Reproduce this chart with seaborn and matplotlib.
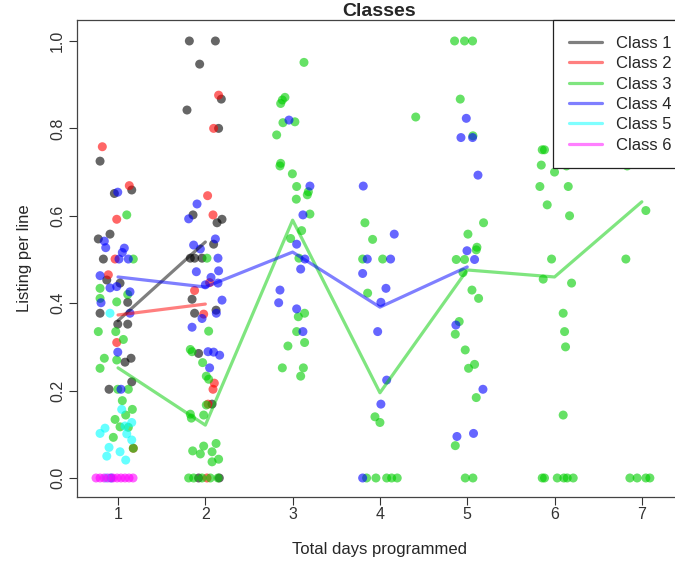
import matplotlib
matplotlib.use("Agg")
import matplotlib.pyplot as plt
from matplotlib.lines import Line2D
import numpy as np
import pandas as pd
import seaborn as sns

sns.set_style("ticks")
plt.rcParams['font.family'] = ['Liberation Sans', 'DejaVu Sans']

# jittered points: x = day (with jitter), y = listing per line
class1_x = [0.794, 1.157, 0.958, 0.908, 0.774, 0.832, 0.871, 1.023, 1.111, 0.794,
            0.997, 1.111, 1.080, 1.149, 1.157, 0.897,
            1.817, 2.115, 1.935, 2.183, 1.790, 2.152, 1.859, 2.134, 2.191, 2.095,
            1.828, 1.877, 1.962, 1.848, 1.877, 2.123, 1.923, 2.077, 1.923, 2.160]
class1_y = [0.725, 0.659, 0.651, 0.558, 0.547, 0.501, 0.453, 0.446, 0.402, 0.377,
            0.352, 0.352, 0.265, 0.274, 0.220, 0.203,
            1.0, 1.0, 0.947, 0.867, 0.842, 0.800, 0.602, 0.584, 0.592, 0.535,
            0.503, 0.503, 0.503, 0.409, 0.377, 0.384, 0.285, 0.169, 0.0, 0.0]

class2_x = [0.820, 1.129, 0.985, 0.966, 0.889, 0.985, 1.175,
            2.152, 2.095, 2.026, 2.088, 2.049, 1.877, 1.981, 2.103, 2.088, 2.031, 2.019]
class2_y = [0.758, 0.669, 0.592, 0.501, 0.465, 0.310, 0.068,
            0.876, 0.800, 0.646, 0.602, 0.447, 0.429, 0.375, 0.217, 0.203, 0.169, 0.0]

class3_x = [1.100, 1.175, 0.794, 1.111, 0.794, 0.985, 0.774, 0.974, 1.061, 0.843,
            0.985, 0.794, 0.997, 1.118, 1.049, 1.164, 1.088, 0.966, 1.023, 1.118,
            0.946, 1.175,
            2.019, 2.038, 1.828, 1.848, 1.969, 2.011, 2.038, 2.011, 1.828, 1.840,
            1.981, 2.123, 1.981, 1.855, 2.077, 1.943, 2.152, 2.077,
            1.809, 1.866, 1.962, 2.057, 2.145,
            3.130, 2.912, 2.882, 2.863, 2.889, 3.026, 2.817, 2.863, 2.855, 2.997,
            3.046, 3.180, 3.168, 3.042, 3.198, 3.103, 2.977, 3.072, 3.065, 3.137,
            3.046, 2.946, 3.137, 2.882, 3.123, 3.092,
            3.828, 3.916, 3.802, 4.031, 3.859, 3.943, 4.0, 4.410,
            3.847, 3.954, 4.077, 4.134, 4.198,
            4.855, 4.969, 5.061, 4.920, 5.065, 5.187, 5.008, 5.111, 5.103, 4.874,
            4.969, 4.951, 5.054, 5.130, 4.908, 4.863, 4.977, 5.084, 5.015, 5.103,
            4.863, 4.977, 5.065,
            5.859, 5.885, 5.848, 6.0, 6.137, 5.832, 6.157, 5.916, 6.172, 5.966,
            5.870, 6.195, 6.099, 6.115, 6.126, 6.099,
            5.859, 5.885, 6.031, 6.107, 6.145, 6.214,
            6.832, 7.046, 6.817, 6.863, 6.946, 7.046, 7.092]
class3_y = [0.602, 0.501, 0.434, 0.420, 0.411, 0.403, 0.335, 0.335, 0.317, 0.274,
            0.270, 0.251, 0.203, 0.203, 0.177, 0.157, 0.144, 0.134, 0.117, 0.116,
            0.093, 0.068,
            0.503, 0.336, 0.294, 0.289, 0.264, 0.233, 0.226, 0.167, 0.146, 0.137,
            0.144, 0.079, 0.073, 0.062, 0.060, 0.055, 0.043, 0.037,
            0.0, 0.0, 0.0, 0.0, 0.0,
            0.951, 0.871, 0.865, 0.857, 0.813, 0.815, 0.785, 0.720, 0.714, 0.696,
            0.667, 0.655, 0.648, 0.638, 0.604, 0.566, 0.548, 0.503, 0.369, 0.377,
            0.335, 0.302, 0.310, 0.252, 0.252, 0.233,
            0.584, 0.546, 0.501, 0.501, 0.423, 0.140, 0.127, 0.826,
            0.0, 0.0, 0.0, 0.0, 0.0,
            1.0, 1.0, 1.0, 0.867, 0.783, 0.584, 0.558, 0.528, 0.522, 0.500,
            0.500, 0.470, 0.430, 0.411, 0.358, 0.329, 0.293, 0.260, 0.251, 0.184,
            0.074, 0.0, 0.0,
            0.751, 0.751, 0.716, 0.700, 0.714, 0.667, 0.667, 0.625, 0.600, 0.501,
            0.455, 0.446, 0.377, 0.335, 0.300, 0.144,
            0.0, 0.0, 0.0, 0.0, 0.0, 0.0,
            0.714, 0.612, 0.501, 0.0, 0.0, 0.0, 0.0]

class4_x = [0.997, 0.843, 0.859, 1.072, 1.049, 1.011, 1.118, 0.794, 0.908, 0.985,
            1.137, 0.805, 1.137, 0.997, 1.034, 0.920,
            1.905, 1.809, 2.115, 1.866, 1.943, 2.145, 1.897, 2.152, 2.065, 2.145,
            2.0, 2.191, 1.962, 2.126, 1.848, 2.031, 2.095, 2.164, 2.049,
            2.958, 3.198, 3.118, 3.046, 3.141, 3.092, 2.855, 2.840, 3.046, 3.118,
            3.809, 4.164, 3.855, 4.122, 3.802, 4.069, 4.011, 3.974, 4.077, 4.011, 3.802,
            4.989, 4.928, 5.061, 5.123, 4.997, 5.084, 4.870, 5.180, 4.882, 5.072]
class4_y = [0.654, 0.542, 0.527, 0.526, 0.516, 0.501, 0.501, 0.463, 0.435, 0.438,
            0.426, 0.401, 0.377, 0.288, 0.203, 0.0,
            0.627, 0.593, 0.547, 0.533, 0.524, 0.503, 0.472, 0.474, 0.459, 0.446,
            0.442, 0.407, 0.365, 0.377, 0.345, 0.289, 0.288, 0.281, 0.252,
            0.819, 0.668, 0.602, 0.535, 0.501, 0.478, 0.430, 0.401, 0.387, 0.335,
            0.668, 0.558, 0.501, 0.501, 0.468, 0.434, 0.402, 0.335, 0.224, 0.169, 0.0,
            0.823, 0.779, 0.779, 0.693, 0.520, 0.500, 0.350, 0.203, 0.095, 0.102]

class5_x = [0.908, 1.042, 1.157, 1.080, 0.851, 0.794, 1.100, 1.157, 0.897, 1.023,
            0.871, 1.088, 0.863]
class5_y = [0.377, 0.157, 0.127, 0.119, 0.114, 0.102, 0.101, 0.087, 0.070, 0.060,
            0.050, 0.041, 0.0]

class6_x = [0.748, 0.794, 0.840, 0.885, 0.943, 0.989, 1.034, 1.080, 1.126, 1.172]
class6_y = [0.0, 0.0, 0.0, 0.0, 0.0, 0.0, 0.0, 0.0, 0.0, 0.0]

# per-class summary lines
class1_line = [0.360, 0.540]
class2_line = [0.373, 0.398]
class3_line = [0.252, 0.121, 0.590, 0.195, 0.476, 0.460, 0.632]
class4_line = [0.460, 0.437, 0.517, 0.391, 0.483]

classes = ['Class 1', 'Class 2', 'Class 3', 'Class 4', 'Class 5', 'Class 6']
colors = ['#000000', '#FF0000', '#00CD00', '#0000FF', '#00FFFF', '#FF00FF']

pts = pd.concat([
    pd.DataFrame({'day': class1_x, 'listing': class1_y, 'cls': 'Class 1'}),
    pd.DataFrame({'day': class2_x, 'listing': class2_y, 'cls': 'Class 2'}),
    pd.DataFrame({'day': class3_x, 'listing': class3_y, 'cls': 'Class 3'}),
    pd.DataFrame({'day': class4_x, 'listing': class4_y, 'cls': 'Class 4'}),
    pd.DataFrame({'day': class5_x, 'listing': class5_y, 'cls': 'Class 5'}),
    pd.DataFrame({'day': class6_x, 'listing': class6_y, 'cls': 'Class 6'}),
], ignore_index=True)

lines = pd.concat([
    pd.DataFrame({'day': np.arange(1, 3), 'listing': class1_line, 'cls': 'Class 1'}),
    pd.DataFrame({'day': np.arange(1, 3), 'listing': class2_line, 'cls': 'Class 2'}),
    pd.DataFrame({'day': np.arange(1, 8), 'listing': class3_line, 'cls': 'Class 3'}),
    pd.DataFrame({'day': np.arange(1, 6), 'listing': class4_line, 'cls': 'Class 4'}),
], ignore_index=True)

pal = dict(zip(classes, colors))

fig = plt.figure(figsize=(6.75, 5.63), dpi=100)
ax = fig.add_axes([77 / 675, 66 / 563, 605 / 675, 477 / 563])

sns.scatterplot(data=pts, x='day', y='listing', hue='cls', palette=pal,
                s=42, alpha=0.6, linewidth=0, legend=False, ax=ax)
sns.lineplot(data=lines, x='day', y='listing', hue='cls', palette=pal,
             estimator=None, sort=False, linewidth=2.3, alpha=0.5,
             legend=False, ax=ax)

ax.set_xlim(0.53, 7.46)
ax.set_ylim(-0.0435, 1.048)
ax.set_xticks(range(1, 8))
ax.set_yticks([0.0, 0.2, 0.4, 0.6, 0.8, 1.0])
ax.set_yticklabels(['0.0', '0.2', '0.4', '0.6', '0.8', '1.0'],
                   rotation=90, va='center')
ax.tick_params(direction='out', length=5.5, width=0.8, colors='#333333',
               labelsize=11.5)
ax.tick_params(axis='x', pad=2)
ax.tick_params(axis='y', pad=3)
for sp in ax.spines.values():
    sp.set_visible(True)
    sp.set_color('#444444')
    sp.set_linewidth(0.9)

ax.set_xlabel('Total days programmed', fontsize=12, labelpad=14)
ax.set_ylabel('Listing per line', fontsize=12, labelpad=13)
ax.set_title('Classes', fontsize=14, fontweight='bold', pad=0.5)

handles = [Line2D([0], [0], color=c, lw=2.3, alpha=0.5) for c in colors]
leg = ax.legend(handles, classes, loc='upper left',
                bbox_to_anchor=(553 / 675, 1 - 20 / 563),
                bbox_transform=fig.transFigure,
                borderaxespad=0, fancybox=False, framealpha=1, fontsize=12,
                handlelength=2.0, handletextpad=0.85, labelspacing=0.32,
                borderpad=0.95)
leg.get_frame().set_edgecolor('#222222')
leg.get_frame().set_linewidth(0.9)

plt.savefig('out.png', dpi=100)
